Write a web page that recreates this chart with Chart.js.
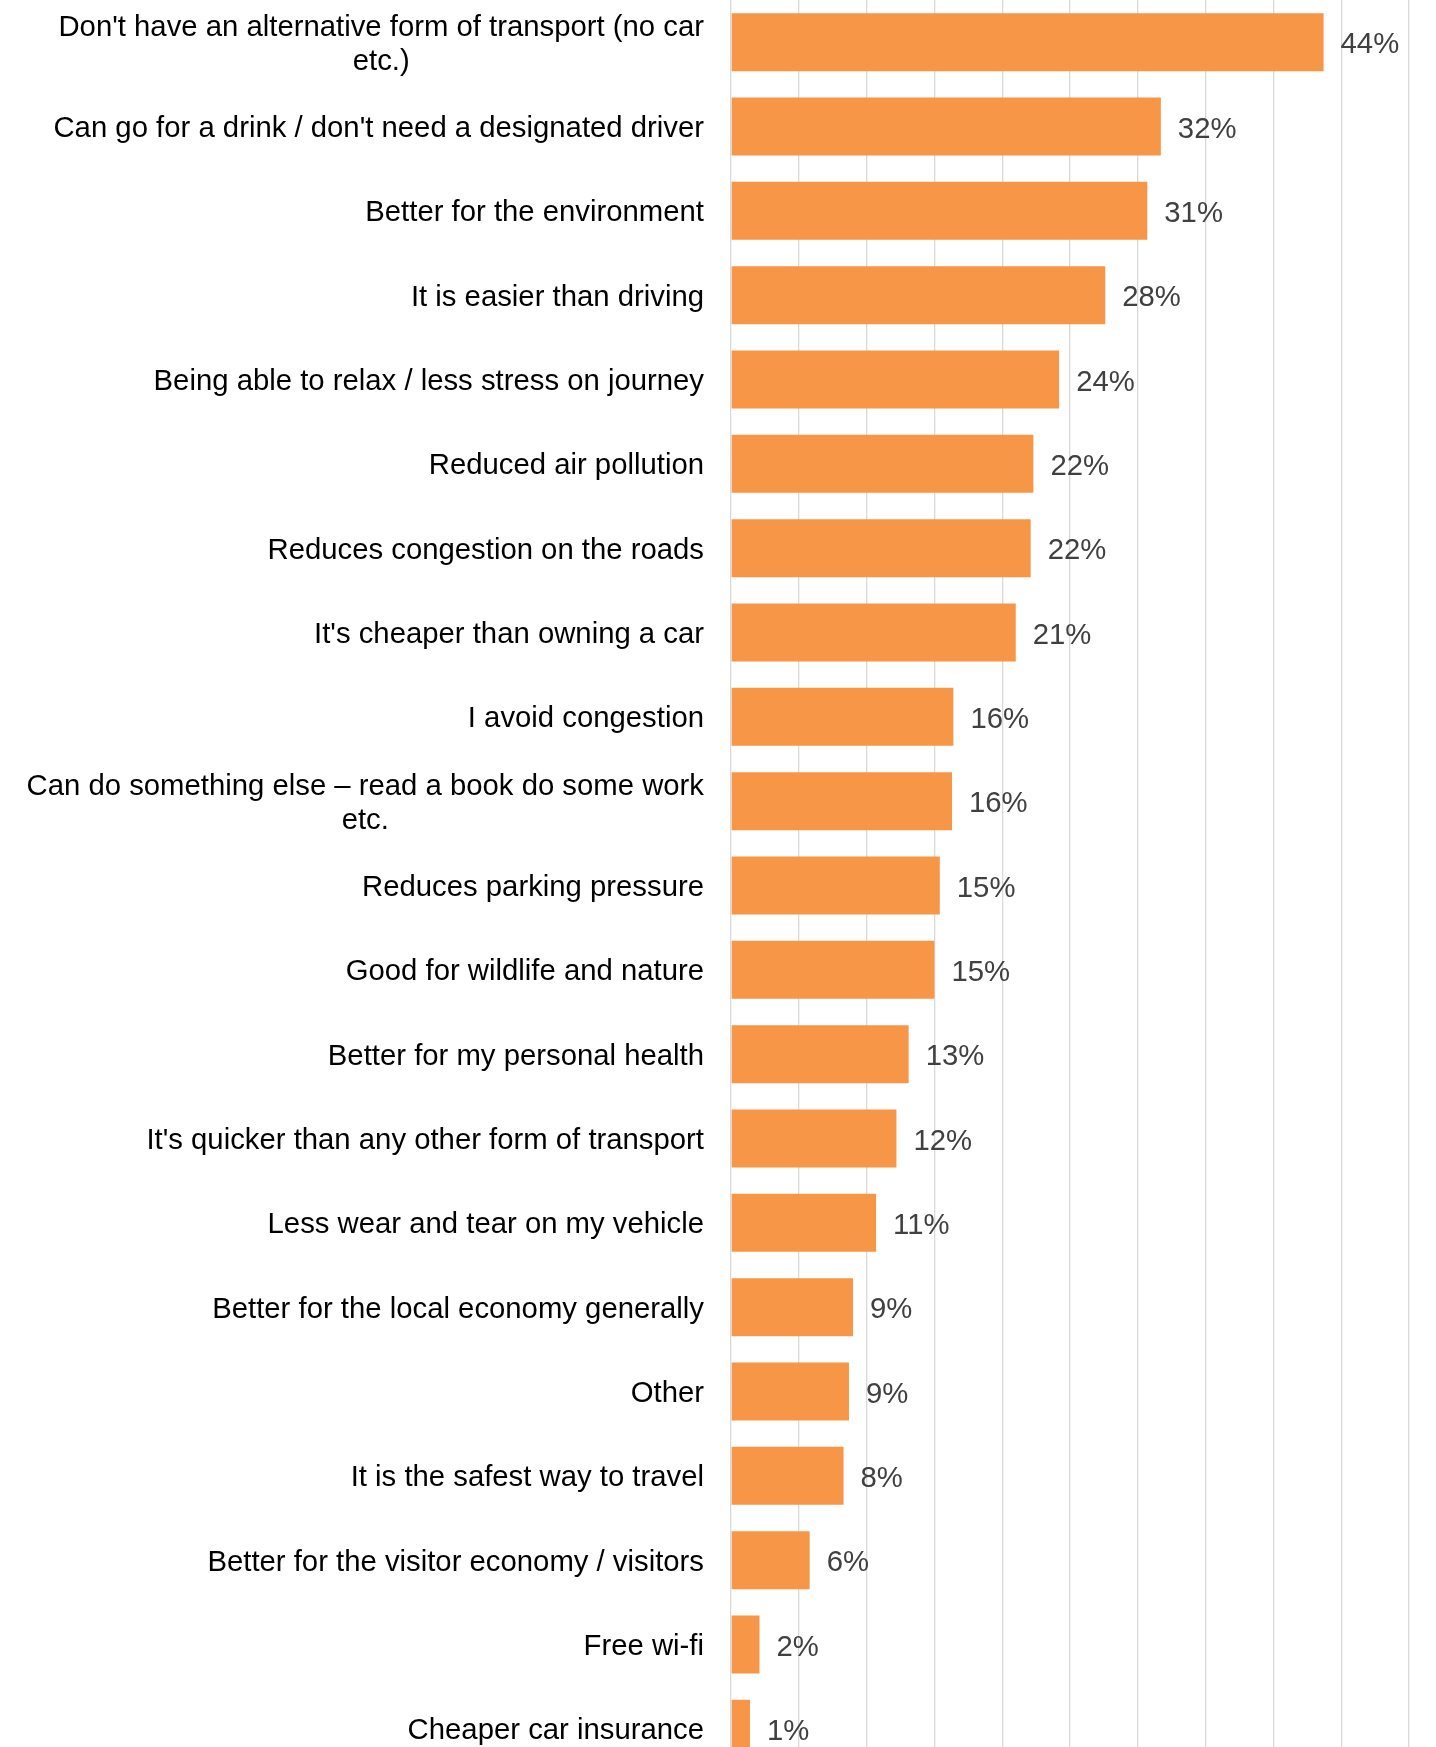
<!DOCTYPE html>
<html>
<head>
<meta charset="utf-8">
<script src="https://cdn.jsdelivr.net/npm/chart.js@4"></script>
<style>
  html, body { margin: 0; padding: 0; background: #fff; overflow: hidden; }
  #wrap { position: relative; width: 1436px; height: 1771px; }
</style>
</head>
<body>
<div id="wrap"><canvas id="reasonsChart"></canvas></div>
<script>
const categories = [
  ["Don't have an alternative form of transport (no car", "etc.)"],
  "Can go for a drink / don't need a designated driver",
  "Better for the environment",
  "It is easier than driving",
  "Being able to relax / less stress on journey",
  "Reduced air pollution",
  "Reduces congestion on the roads",
  "It's cheaper than owning a car",
  "I avoid congestion",
  ["Can do something else \u2013 read a book do some work", "etc."],
  "Reduces parking pressure",
  "Good for wildlife and nature",
  "Better for my personal health",
  "It's quicker than any other form of transport",
  "Less wear and tear on my vehicle",
  "Better for the local economy generally",
  "Other",
  "It is the safest way to travel",
  "Better for the visitor economy / visitors",
  "Free wi-fi",
  "Cheaper car insurance"
];
const values = [43.7, 31.7, 30.7, 27.6, 24.2, 22.3, 22.1, 21.0, 16.4, 16.3, 15.4,
                15.0, 13.1, 12.2, 10.7, 9.0, 8.7, 8.3, 5.8, 2.1, 1.4];
const valueLabels = ["44%", "32%", "31%", "28%", "24%", "22%", "22%", "21%", "16%", "16%", "15%",
                     "15%", "13%", "12%", "11%", "9%", "9%", "8%", "6%", "2%", "1%"];

const FONT = "29.3px 'Liberation Sans', Arial, sans-serif";

// category labels: block right aligned, lines centred inside the block (like Excel)
const categoryLabels = {
  id: "categoryLabels",
  afterDraw(chart) {
    const c = chart.ctx;
    const yScale = chart.scales.y;
    const right = chart.chartArea.left - 27;
    const lineH = 34.5;
    c.save();
    c.font = FONT;
    c.fillStyle = "#000000";
    c.textAlign = "center";
    c.textBaseline = "middle";
    categories.forEach((lab, i) => {
      const lines = Array.isArray(lab) ? lab : [lab];
      const w = Math.max(...lines.map(l => c.measureText(l).width));
      const y = yScale.getPixelForTick(i) + 2.5;
      lines.forEach((l, k) => {
        c.fillText(l, right - w / 2, y - (lines.length - 1) * lineH / 2 + k * lineH);
      });
    });
    c.restore();
  }
};

const valueText = {
  id: "valueText",
  afterDatasetsDraw(chart) {
    const c = chart.ctx;
    const meta = chart.getDatasetMeta(0);
    c.save();
    c.font = FONT;
    c.fillStyle = "#404040";
    c.textAlign = "left";
    c.textBaseline = "middle";
    meta.data.forEach((bar, i) => {
      c.fillText(valueLabels[i], bar.x + 17, bar.y + 3);
    });
    c.restore();
  }
};

const ctx = document.getElementById("reasonsChart").getContext("2d");
new Chart(ctx, {
  type: "bar",
  data: {
    labels: categories,
    datasets: [
      {
        data: values,
        backgroundColor: "#F79646",
        borderWidth: 0,
        categoryPercentage: 1,
        barPercentage: 0.687
      }
    ]
  },
  options: {
    indexAxis: "y",
    responsive: true,
    maintainAspectRatio: false,
    animation: false,
    layout: { padding: { left: 0, right: 27, top: 0, bottom: 0 } },
    plugins: {
      legend: { display: false },
      tooltip: { enabled: false }
    },
    scales: {
      x: {
        min: 0,
        max: 50,
        ticks: { display: false, stepSize: 5 },
        grid: { color: "#D9D9D9", lineWidth: 1.3, drawTicks: false },
        border: { display: false },
        afterFit(scale) { scale.height = 0; }
      },
      y: {
        ticks: { display: false },
        grid: { display: false, drawTicks: false },
        border: { display: false },
        afterFit(scale) { scale.width = 731; }
      }
    }
  },
  plugins: [categoryLabels, valueText]
});
</script>
</body>
</html>
